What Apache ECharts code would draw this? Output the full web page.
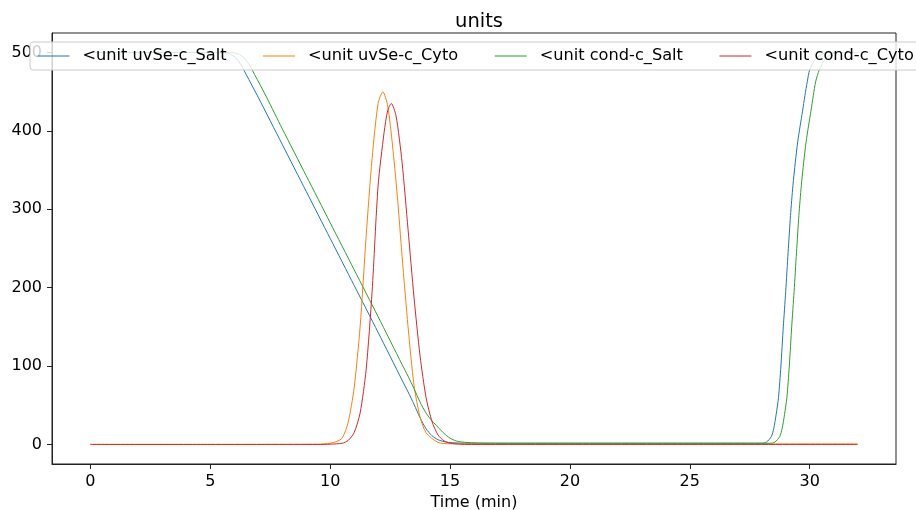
<!DOCTYPE html>
<html>
<head>
<meta charset="utf-8">
<script src="https://cdn.jsdelivr.net/npm/echarts@6/dist/echarts.min.js"></script>
<style>
  html, body { margin: 0; padding: 0; background: #fff; }
  #chart { width: 916px; height: 510px; }
</style>
</head>
<body>
<div id="chart"></div>
<script>
const seriesNames = ['<unit uvSe-c_Salt', '<unit uvSe-c_Cyto', '<unit cond-c_Salt', '<unit cond-c_Cyto']
const xTicks = [0, 5, 10, 15, 20, 25, 30]
const yTicks = [0, 100, 200, 300, 400, 500]

// uvSe-c_Salt (blue)
const uvSaltTime = [0, 3, 5.5, 5.75, 6, 6.25, 6.5, 7, 8, 9, 10, 11, 12, 13, 13.25, 13.5, 13.75, 14, 14.25, 14.5, 14.75, 15, 15.5, 16, 20, 25, 28, 28.2, 28.4, 28.5, 28.6, 28.7, 28.8, 28.9, 29, 29.1, 29.2, 29.3, 29.4, 29.5, 29.6, 29.7, 29.8, 29.9, 30, 30.2, 30.4, 30.6, 30.8, 32]
const uvSaltValue = [500, 500, 500, 499, 495, 486, 472, 443, 383, 323, 263, 203, 143, 82, 67, 51, 34, 20, 11, 6, 3.5, 2.3, 1.6, 1.5, 1.5, 1.5, 1.5, 3, 10, 20, 38, 60, 100, 150, 195, 245, 292, 330, 360, 386, 406, 425, 445, 463, 478, 490, 496, 499, 500, 500]

// uvSe-c_Cyto (orange)
const uvCytoTime = [0, 5, 9.5, 10, 10.25, 10.5, 10.75, 11, 11.25, 11.5, 11.75, 12, 12.2, 12.4, 12.6, 12.8, 13, 13.25, 13.5, 13.75, 14, 14.5, 15, 16, 32]
const uvCytoValue = [0, 0, 0.2, 1.5, 3.5, 8, 28, 72, 150, 265, 365, 435, 450, 432, 382, 318, 240, 150, 75, 35, 15, 2.5, 0.8, 0.6, 0.6]

// cond-c_Salt (green)
const condSaltTime = [0, 3, 5.8, 6.1, 6.35, 6.6, 6.85, 7.35, 8, 9, 10, 11, 12, 13, 13.25, 13.5, 13.75, 14, 14.25, 14.5, 14.75, 15, 15.25, 15.5, 16, 17, 20, 25, 28.35, 28.55, 28.75, 28.85, 28.95, 29.05, 29.15, 29.25, 29.35, 29.45, 29.55, 29.65, 29.75, 29.85, 29.95, 30.05, 30.15, 30.25, 30.4, 30.6, 30.8, 31, 31.2, 32]
const condSaltValue = [500, 500, 500, 499, 495, 486, 472, 443, 403, 343, 283, 223, 163, 102, 87, 71, 54, 40, 30, 22, 14, 8, 4.5, 3, 2, 1.5, 1.5, 1.5, 1.5, 3, 10, 20, 38, 60, 100, 150, 195, 245, 292, 330, 360, 386, 406, 425, 445, 463, 478, 490, 496, 499, 500, 500]

// cond-c_Cyto (red)
const condCytoTime = [0, 5, 9.5, 10, 10.5, 10.75, 11, 11.25, 11.5, 11.75, 12, 12.25, 12.4, 12.55, 12.75, 13, 13.25, 13.5, 13.75, 14, 14.25, 14.5, 14.75, 15, 15.5, 16, 20, 25, 32]
const condCytoValue = [0, 0, 0, 0.3, 1.5, 5, 15, 40, 95, 195, 330, 398, 426, 435, 419, 360, 274, 187, 113, 60, 29, 12, 4.6, 1.6, 0.2, 0, 0, 0, 0]

const colors = ['#1f77b4', '#ff7f0e', '#2ca02c', '#d62728']
const seriesData = [
  [uvSaltTime, uvSaltValue],
  [uvCytoTime, uvCytoValue],
  [condSaltTime, condSaltValue],
  [condCytoTime, condCytoValue],
]

const font = 'DejaVu Sans'
const chart = echarts.init(document.getElementById('chart'))

chart.setOption({
  animation: false,
  title: {
    text: 'units',
    left: 474,
    top: 7,
    textAlign: 'center',
    textStyle: { fontFamily: font, fontSize: 19.5, fontWeight: 'normal', color: '#000' },
  },
  legend: {
    data: seriesNames,
    left: 30,
    top: 42,
    width: 1000,
    padding: [6, 8, 6, 7],
    itemWidth: 32,
    itemHeight: 14,
    itemGap: 36,
    backgroundColor: 'rgba(255,255,255,0.8)',
    borderColor: '#cccccc',
    borderWidth: 1,
    borderRadius: 3,
    itemStyle: { opacity: 0 },
    lineStyle: { width: 1 },
    textStyle: { fontFamily: font, fontSize: 16.2, color: '#000', padding: [0, 0, 0, 8] },
  },
  grid: {
    show: true,
    left: 52,
    right: 20,
    top: 33,
    bottom: 46,
    outerBoundsMode: 'none',
    borderColor: '#222',
    borderWidth: 1,
  },
  xAxis: {
    type: 'value',
    min: -1.6,
    max: 33.6,
    name: 'Time (min)',
    nameLocation: 'middle',
    nameGap: 31,
    nameTextStyle: { fontFamily: font, fontSize: 16, color: '#000' },
    axisLine: { show: true, onZero: false, lineStyle: { color: '#222' } },
    axisTick: { show: true, length: 5, customValues: xTicks, lineStyle: { color: '#222' } },
    axisLabel: { customValues: xTicks, margin: 10, fontFamily: font, fontSize: 16, color: '#000' },
    splitLine: { show: false },
  },
  yAxis: {
    type: 'value',
    min: -25,
    max: 525,
    axisLine: { show: true, onZero: false, lineStyle: { color: '#222' } },
    axisTick: { show: true, length: 5, customValues: yTicks, lineStyle: { color: '#222' } },
    axisLabel: { customValues: yTicks, margin: 10, fontFamily: font, fontSize: 16, color: '#000' },
    splitLine: { show: false },
  },
  series: seriesNames.map((name, i) => ({
    name,
    type: 'line',
    symbol: 'none',
    smooth: 0.25,
    color: colors[i],
    lineStyle: { width: 1, color: colors[i] },
    data: seriesData[i][0].map((t, j) => [t, seriesData[i][1][j]]),
  })),
})
</script>
</body>
</html>
